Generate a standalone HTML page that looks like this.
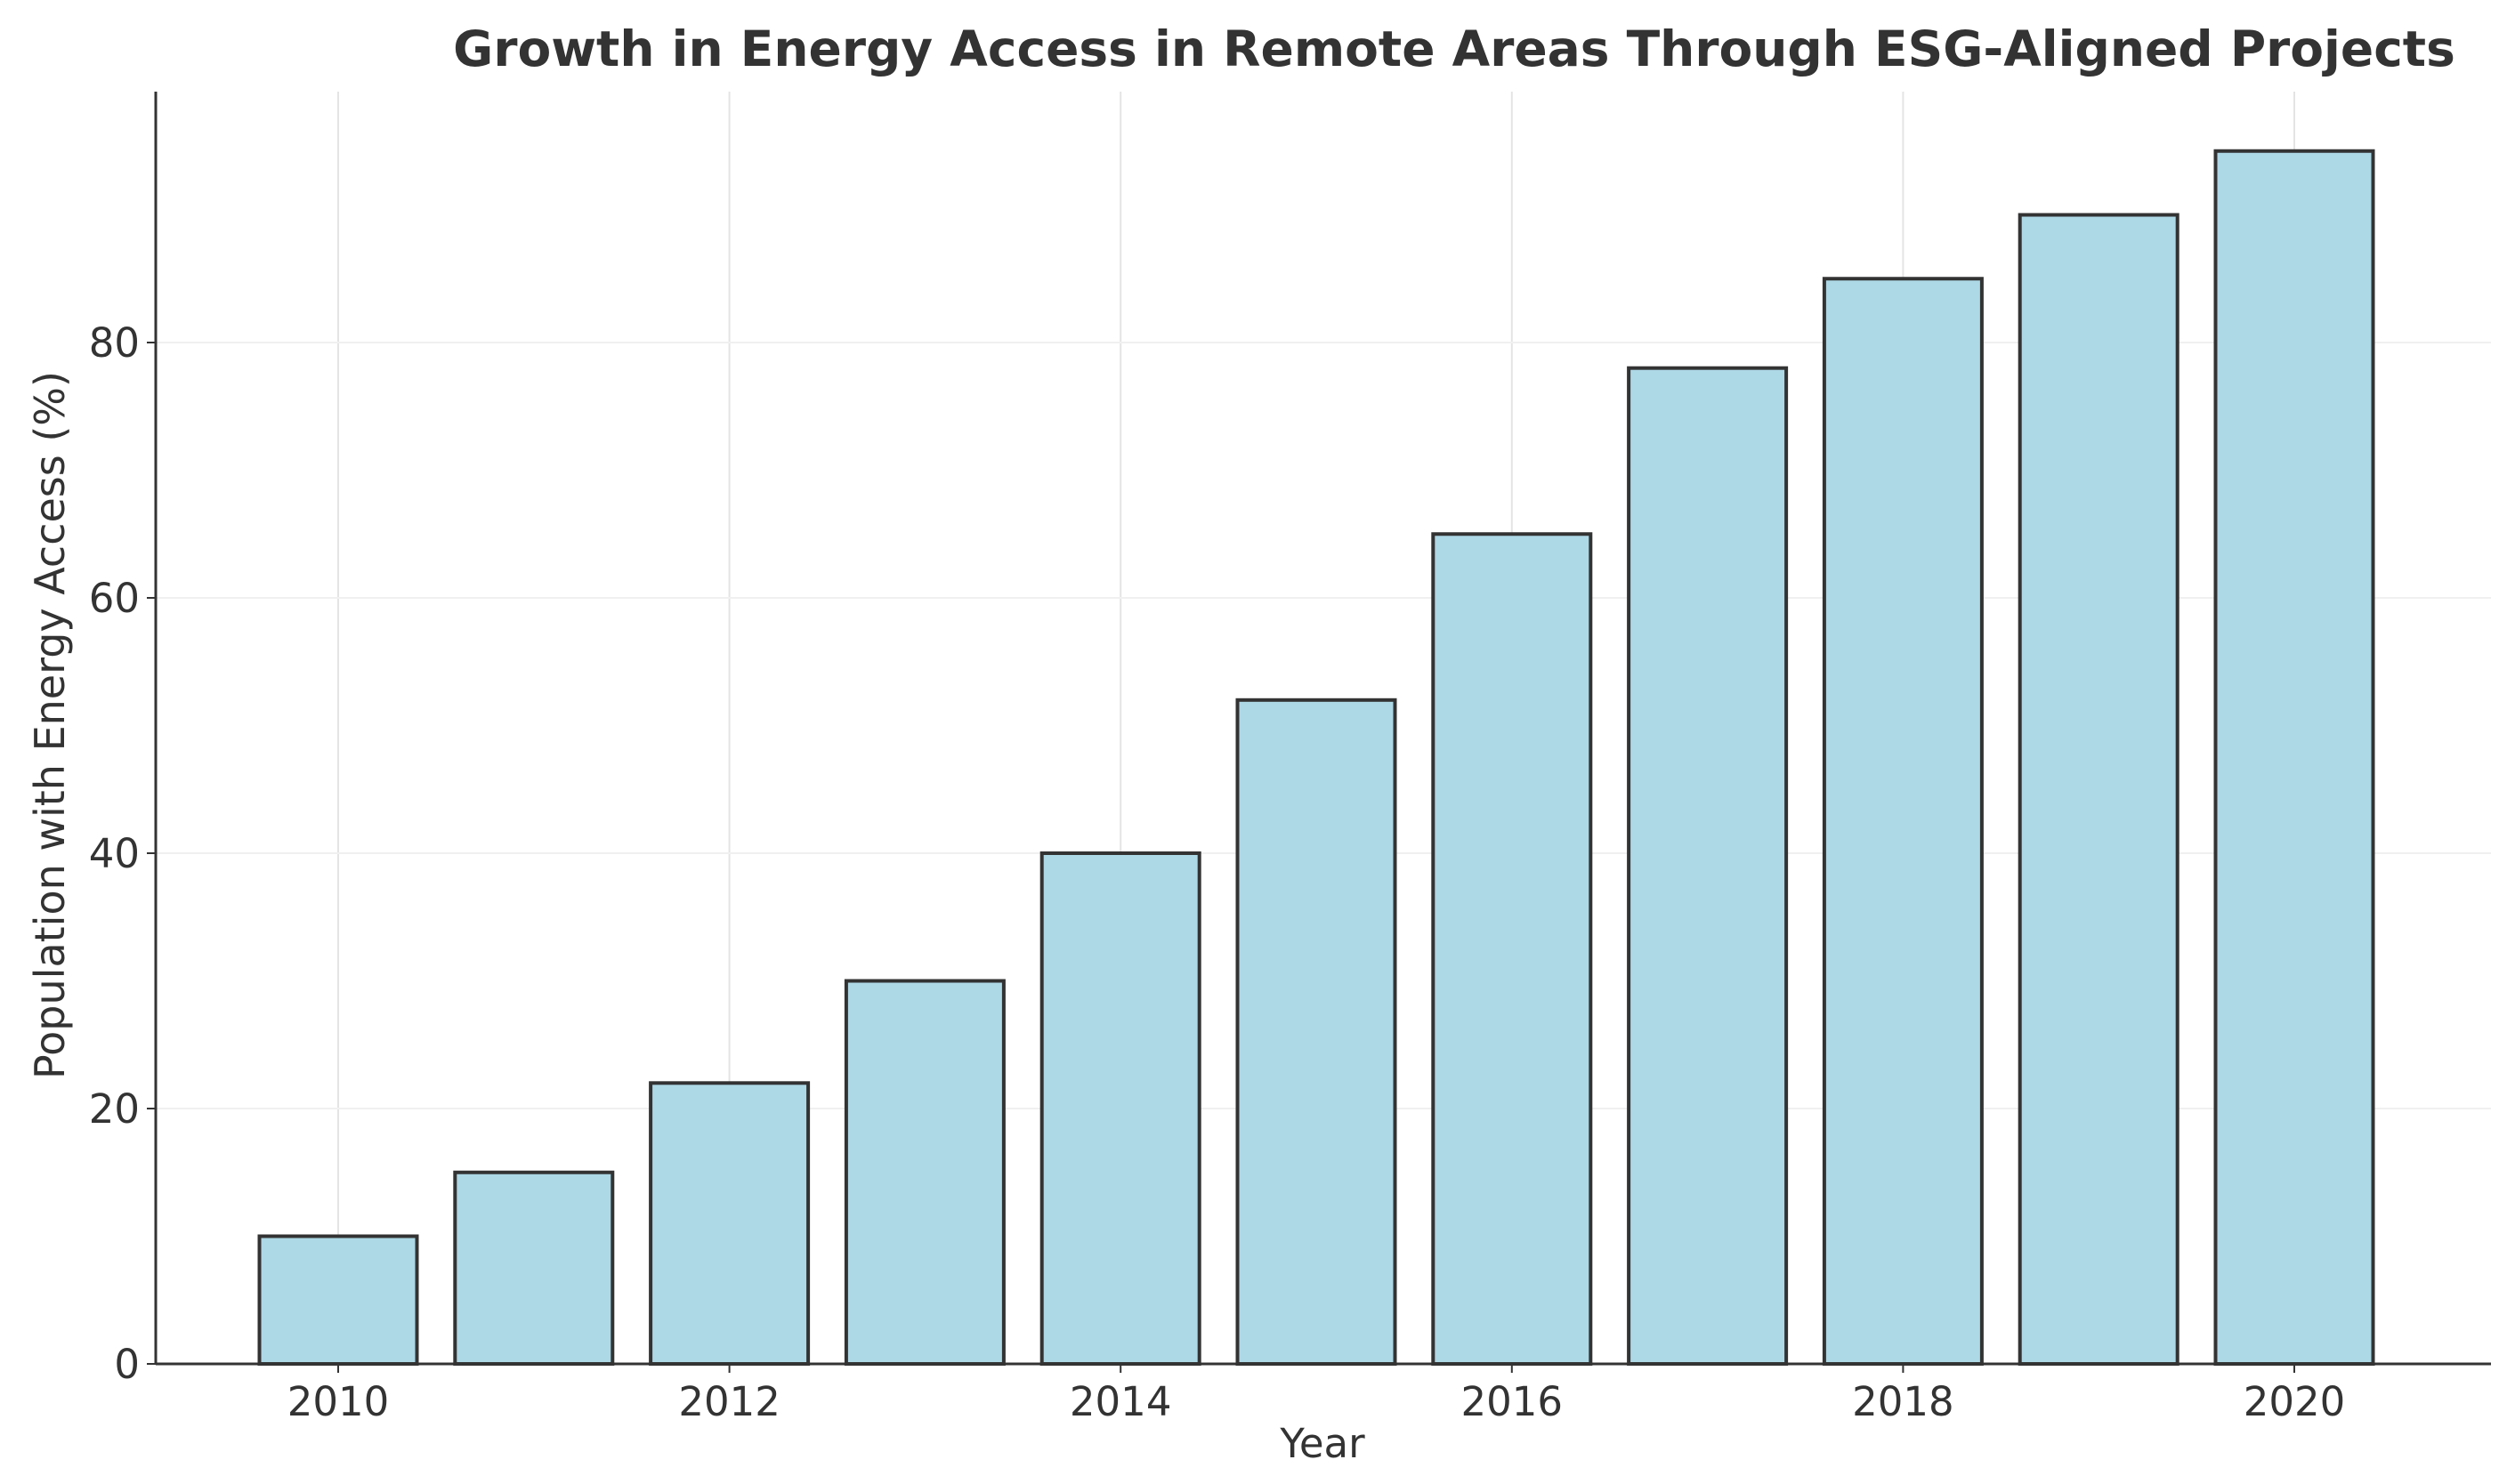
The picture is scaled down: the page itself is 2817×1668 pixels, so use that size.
<!DOCTYPE html>
<html><head><meta charset="utf-8"><style>
html,body{margin:0;padding:0;background:#fff;}
svg{display:block;font-family:"DejaVu Sans","Liberation Sans",sans-serif;}
</style></head><body>
<svg id="chart" width="2817" height="1668" viewBox="0 0 2817 1668" xmlns="http://www.w3.org/2000/svg">
<text x="1634" y="74" text-anchor="middle" font-size="55" font-weight="bold" fill="#333">Growth in Energy Access in Remote Areas Through ESG-Aligned Projects</text>
<g id="grid"></g><g id="bars"></g><g id="axes"></g>
<text x="1486" y="1638" text-anchor="middle" font-size="45" fill="#333">Year</text>
<text transform="translate(72,815) rotate(-90)" text-anchor="middle" font-size="46" fill="#333">Population with Energy Access (%)</text>
</svg>
<script>
const years = [2010,2011,2012,2013,2014,2015,2016,2017,2018,2019,2020];
const access = [10,15,22,30,40,52,65,78,85,90,95];
const xTicks = [2010,2012,2014,2016,2018,2020];
const yTicks = [0,20,40,60,80];
const NS='http://www.w3.org/2000/svg';
const L=175,R=2799,T=103,B=1533;
function xs(y){return 380+(y-2010)*219.8;}
function ys(v){return B-v*(B-385)/80;}
const bw=177;
function mk(tag,attrs,parent){const e=document.createElementNS(NS,tag);for(const k in attrs)e.setAttribute(k,attrs[k]);parent.appendChild(e);return e;}
const grid=document.getElementById('grid'),bars=document.getElementById('bars'),axes=document.getElementById('axes');
xTicks.forEach(t=>{const l=mk('line',{x1:xs(t),x2:xs(t),y1:T,y2:B,stroke:'#e4e4e4','stroke-width':2},grid);

});
yTicks.forEach(t=>{const l=mk('line',{x1:L,x2:R,y1:ys(t),y2:ys(t),stroke:'#f0f0f0','stroke-width':2},grid);

});
years.forEach((y,i)=>{const r=mk('rect',{x:xs(y)-bw/2,y:ys(access[i]),width:bw,height:B-ys(access[i]),fill:'#add8e6',stroke:'#333','stroke-width':4},bars);

});
const ax=mk('line',{x1:L,x2:L,y1:T,y2:B,stroke:'#333','stroke-width':3},axes);


const bx=mk('line',{x1:L,x2:R,y1:B,y2:B,stroke:'#333','stroke-width':3},axes);


xTicks.forEach(t=>{mk('line',{x1:xs(t),x2:xs(t),y1:B,y2:B+10,stroke:'#333','stroke-width':2},axes);
const tx=mk('text',{x:xs(t),y:B+58,'text-anchor':'middle','font-size':45,fill:'#333'},axes);tx.textContent=t;

});
yTicks.forEach(t=>{mk('line',{x1:L-10,x2:L,y1:ys(t),y2:ys(t),stroke:'#333','stroke-width':2},axes);
const tx=mk('text',{x:L-18,y:ys(t)+16,'text-anchor':'end','font-size':45,fill:'#333'},axes);tx.textContent=t;

});
</script>
</body></html>
